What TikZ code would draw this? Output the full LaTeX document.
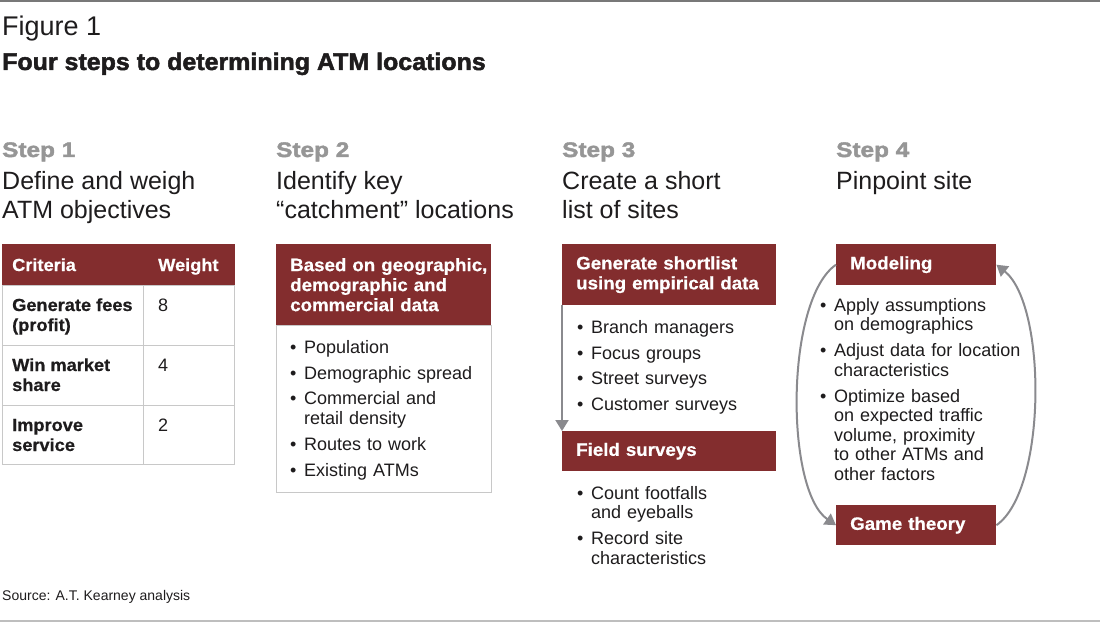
\documentclass[tikz,border=0pt]{standalone}
\usepackage{fontspec}
\setmainfont{Liberation Sans}
\newfontfamily\titlefam{Liberation Sans}[FakeStretch=1.04,FakeBold=2]
\newfontfamily\stepfam{Liberation Sans}[FakeStretch=1.16,FakeBold=2]
\newfontfamily\hdrfam{Liberation Sans}[FakeStretch=1.04,FakeBold=0.6]
\usetikzlibrary{arrows.meta}
\definecolor{atred}{RGB}{131,45,46}
\definecolor{stepgray}{RGB}{150,150,150}
\definecolor{arrowgray}{RGB}{138,138,142}
\definecolor{boxgray}{RGB}{200,200,200}
\definecolor{inkblack}{RGB}{30,28,29}
\definecolor{topgray}{RGB}{120,120,120}
\definecolor{botgray}{RGB}{190,190,190}
\newcommand{\atmfirst}{\hangindent=14pt\hangafter=1\noindent\makebox[14pt][l]{\vrule height 14pt width 0pt\textbullet}}
\newcommand{\atmitem}{\par\atmfirst}
\newcommand{\atmbr}{\hfil\break}
\newcommand{\atmhdrsetup}{\leftskip=14pt\relax\hyphenpenalty=10000\relax}
\tikzset{
  txt/.style={anchor=base west, inner sep=0pt, text=inkblack},
  figlbl/.style={txt, font=\fontsize{27}{30}\selectfont},
  titlelbl/.style={txt, font=\titlefam\bfseries\fontsize{24}{28}\selectfont},
  steplbl/.style={txt, text=stepgray, font=\stepfam\bfseries\fontsize{21}{24}\selectfont},
  stepdesc/.style={txt, font=\fontsize{25}{29}\selectfont},
  hdrbox/.style={anchor=north west, fill=atred, text=white, inner xsep=0pt, inner ysep=0pt,
     align=left, font=\hdrfam\bfseries\fontsize{18}{20}\selectfont,
     execute at begin node=\atmhdrsetup},
  cellbox/.style={anchor=north west, draw=boxgray, line width=1pt, inner sep=0pt},
  celltxt/.style={txt, font=\hdrfam\bfseries\fontsize{17.5}{20}\selectfont},
  cellnum/.style={txt, font=\fontsize{18}{20}\selectfont},
  thtxt/.style={txt, text=white, font=\hdrfam\bfseries\fontsize{17.5}{20}\selectfont},
  listtxt/.style={anchor=north west, inner sep=0pt, text=inkblack, align=left,
     font=\fontsize{18}{19.6}\selectfont\setlength{\parskip}{6.2pt}},
  flowarrow/.style={draw=arrowgray, line width=2pt, -{Triangle[width=13pt,length=11pt]}},
  srclbl/.style={txt, font=\fontsize{14}{16}\selectfont}
}
\begin{document}
\begin{tikzpicture}[x=1pt,y=-1pt]
\path[use as bounding box, fill=white] (0,0) rectangle (1100,623);
\draw[topgray, line width=1.5pt] (0,1) -- (1100,1);
\draw[botgray, line width=2pt] (0,621) -- (1100,621);

\node[figlbl] (fig) at (2,36) {Figure 1};
\node[titlelbl] (title) at (2,70) {Four steps to determining ATM locations};

% step headings
\node[steplbl] (s1) at (2,157) {Step 1};
\node[stepdesc] (d1a) at (2,189) {Define and weigh};
\node[stepdesc] (d1b) at (2,218) {ATM objectives};
\node[steplbl] (s2) at (276,157) {Step 2};
\node[stepdesc] (d2a) at (276,189) {Identify key};
\node[stepdesc] (d2b) at (276,218) {“catchment” locations};
\node[steplbl] (s3) at (562,157) {Step 3};
\node[stepdesc] (d3a) at (562,189) {Create a short};
\node[stepdesc] (d3b) at (562,218) {list of sites};
\node[steplbl] (s4) at (836,157) {Step 4};
\node[stepdesc] (d4a) at (836,189) {Pinpoint site};

% step 1 table
\node[cellbox, fill=atred, draw=atred, minimum width=232pt, minimum height=41pt] (th) at (2,244) {};
\node[thtxt] (thc) at (12,271) {Criteria};
\node[thtxt] (thw) at (158,271) {Weight};
\node[cellbox, minimum width=141pt, minimum height=60pt] (r1a) at (2,285) {};
\node[cellbox, minimum width=91pt, minimum height=60pt] (r1b) at (143,285) {};
\node[cellbox, minimum width=141pt, minimum height=60pt] (r2a) at (2,345) {};
\node[cellbox, minimum width=91pt, minimum height=60pt] (r2b) at (143,345) {};
\node[cellbox, minimum width=141pt, minimum height=59pt] (r3a) at (2,405) {};
\node[cellbox, minimum width=91pt, minimum height=59pt] (r3b) at (143,405) {};
\node[celltxt] (t1a) at (12,311) {Generate fees};
\node[celltxt] (t1b) at (12,331) {(profit)};
\node[cellnum] (n1) at (158,311) {8};
\node[celltxt] (t2a) at (12,371) {Win market};
\node[celltxt] (t2b) at (12,391) {share};
\node[cellnum] (n2) at (158,371) {4};
\node[celltxt] (t3a) at (12,431) {Improve};
\node[celltxt] (t3b) at (12,451) {service};
\node[cellnum] (n3) at (158,431) {2};

% step 2
\node[hdrbox, text width=215pt, minimum width=215pt, minimum height=81pt] (h2) at (276,244)
  {Based on geographic,\\demographic and\\commercial data};
\node[cellbox, minimum width=215pt, minimum height=167pt] (b2) at (276,325) {};
\node[listtxt, text width=198pt] (l2) at (290,339)
  {\atmfirst Population
   \atmitem Demographic spread
   \atmitem Commercial and\atmbr retail density
   \atmitem Routes to work
   \atmitem Existing ATMs\par};

% step 3
\node[hdrbox, text width=214pt, minimum width=214pt, minimum height=61pt] (h3a) at (562,244)
  {Generate shortlist\\using empirical data};
\node[listtxt, text width=190pt] (l3a) at (577,319)
  {\atmfirst Branch managers
   \atmitem Focus groups
   \atmitem Street surveys
   \atmitem Customer surveys\par};
\node[hdrbox, text width=214pt, minimum width=214pt, minimum height=40pt] (h3b) at (562,431)
  {Field surveys};
\node[listtxt, text width=190pt] (l3b) at (577,485)
  {\atmfirst Count footfalls\atmbr and eyeballs
   \atmitem Record site\atmbr characteristics\par};
\draw[flowarrow] (h3a.south west) -- (h3b.north west);

% step 4
\node[hdrbox, text width=160pt, minimum width=160pt, minimum height=41pt] (h4a) at (836,244)
  {Modeling};
\node[hdrbox, text width=160pt, minimum width=160pt, minimum height=40pt] (h4b) at (836,505)
  {Game theory};
\node[listtxt, text width=215pt] (l4) at (820,297)
  {\atmfirst Apply assumptions\atmbr on demographics
   \atmitem Adjust data for location\atmbr characteristics
   \atmitem Optimize based\atmbr on expected traffic\atmbr volume, proximity\atmbr to other ATMs and\atmbr other factors\par};
\draw[flowarrow] (h4a.west) .. controls (785,300) and (785,490) .. (h4b.west);
\draw[flowarrow] (h4b.east) .. controls (1047,490) and (1047,305) .. (h4a.east);

\node[srclbl] (src) at (2,600) {Source: A.T. Kearney analysis};
\end{tikzpicture}
\end{document}
